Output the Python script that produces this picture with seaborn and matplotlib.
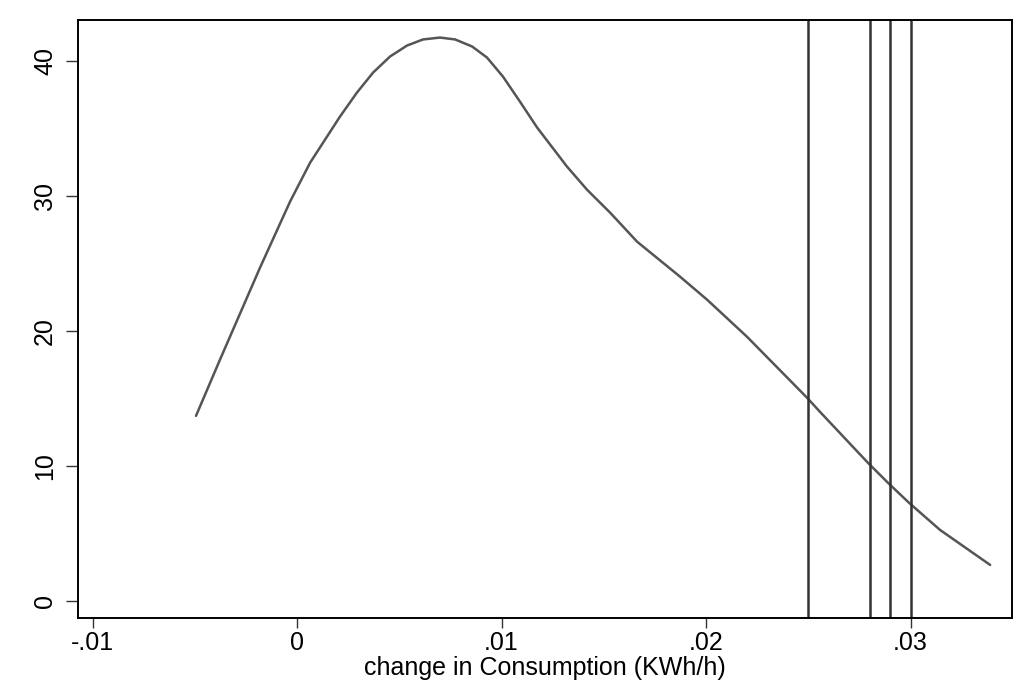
import matplotlib
matplotlib.use("Agg")
import matplotlib.pyplot as plt
import seaborn as sns
import pandas as pd

# Kernel density estimate of the change in consumption
change_kwh = [-0.00494, -0.00377, -0.00181, -0.00034, 0.00064, 0.00210, 0.00293,
              0.00372, 0.00455, 0.00538, 0.00616, 0.00699, 0.00773, 0.00856,
              0.00929, 0.01007, 0.01090, 0.01174, 0.01320, 0.01418, 0.01531,
              0.01663, 0.01873, 0.02005, 0.02200, 0.02494, 0.02557, 0.02792,
              0.02890, 0.02993, 0.03144, 0.03389]
density = [13.70, 17.85, 24.67, 29.56, 32.44, 35.85, 37.63, 39.11, 40.30, 41.11,
           41.56, 41.70, 41.56, 41.04, 40.22, 38.81, 36.96, 35.04, 32.15, 30.44,
           28.74, 26.59, 24.00, 22.30, 19.56, 15.04, 14.00, 10.22, 8.74, 7.26,
           5.26, 2.67]

# Reference values marked with vertical lines
reference_values = [0.025, 0.028, 0.029, 0.030]

x_ticks = [-0.01, 0.0, 0.01, 0.02, 0.03]
x_tick_labels = ["-.01", "0", ".01", ".02", ".03"]
y_ticks = [0, 10, 20, 30, 40]
y_tick_labels = ["0", "10", "20", "30", "40"]
x_label = "change in Consumption (KWh/h)"

sns.set_theme(style="white")
plt.rcParams["font.family"] = ["Liberation Sans", "DejaVu Sans"]

fig = plt.figure(figsize=(10.15, 6.95), dpi=100)
ax = fig.add_axes([78 / 1015, 1 - 618 / 695, (1012 - 78) / 1015, (618 - 20) / 695])

df = pd.DataFrame({"x": change_kwh, "y": density})
sns.lineplot(data=df, x="x", y="y", ax=ax, color="#555555", linewidth=1.8,
             sort=False, estimator=None)

for v in reference_values:
    ax.axvline(v, color="#333333", linewidth=1.8)

ax.set_xlim(-0.01071, 0.03496)
ax.set_ylim(-1.26, 43.0)

ax.set_xticks(x_ticks)
ax.set_xticklabels(x_tick_labels)
ax.set_yticks(y_ticks)
ax.set_yticklabels(y_tick_labels, rotation=90, va="center")

ax.tick_params(axis="both", which="major", width=1.0, color="#333333",
               labelsize=18, labelcolor="black", direction="out",
               bottom=True, left=True)
ax.tick_params(axis="x", length=7, pad=2)
ax.tick_params(axis="y", length=9, pad=6)
ax.set_xlabel(x_label, fontsize=18, labelpad=1, color="black")
ax.set_ylabel("")

for side in ["left", "bottom", "top", "right"]:
    ax.spines[side].set_visible(True)
    ax.spines[side].set_color("black")
    ax.spines[side].set_linewidth(1.4)
ax.grid(False)

fig.savefig("out.png", dpi=100, facecolor="white")
